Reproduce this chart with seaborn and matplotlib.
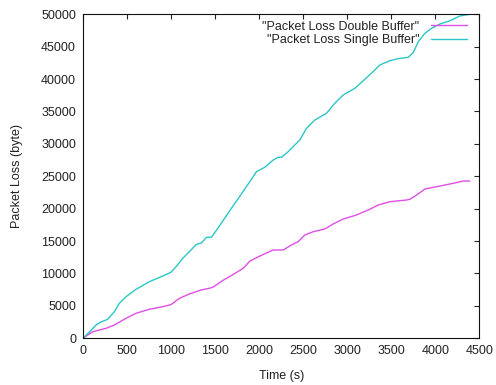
import matplotlib
matplotlib.use("Agg")
import matplotlib.pyplot as plt
import seaborn as sns
import pandas as pd

# Cumulative packet loss over time for the two buffering schemes
time_double = [0, 110, 262, 356, 489, 603, 754, 906, 1000, 1095, 1208, 1341, 1439,
               1477, 1591, 1705, 1818, 1894, 2008, 2159, 2273, 2368, 2443, 2519,
               2614, 2746, 2841, 2955, 3106, 3239, 3352, 3485, 3674, 3712, 3788,
               3883, 4053, 4205, 4318, 4394]
loss_double = [0, 1020, 1540, 2050, 3090, 3860, 4480, 4880, 5200, 6170, 6840, 7450,
               7740, 7900, 8950, 9840, 10790, 11900, 12700, 13630, 13630, 14400,
               14910, 15940, 16450, 16870, 17640, 18410, 19030, 19800, 20570,
               21080, 21340, 21450, 22110, 23040, 23500, 23920, 24270, 24270]

time_single = [0, 110, 148, 200, 281, 356, 413, 489, 603, 754, 906, 1000, 1057, 1133,
               1208, 1288, 1345, 1402, 1459, 1553, 1667, 1780, 1894, 1970, 2065,
               2159, 2216, 2254, 2330, 2405, 2462, 2538, 2633, 2765, 2860, 2955,
               3087, 3201, 3314, 3371, 3485, 3580, 3693, 3750, 3807, 3883, 3959,
               4053, 4167, 4280, 4394]
loss_single = [0, 1500, 2050, 2500, 2930, 4100, 5400, 6420, 7560, 8740, 9610, 10200,
               11050, 12350, 13370, 14500, 14700, 15590, 15600, 17400, 19700, 21900,
               24170, 25710, 26400, 27500, 27930, 27930, 28800, 29830, 30600, 32400,
               33690, 34720, 36270, 37550, 38580, 39970, 41400, 42180, 42840, 43150,
               43360, 44080, 45770, 47070, 47840, 48500, 49000, 49740, 50000]

series_names = ['"Packet Loss Double Buffer"', '"Packet Loss Single Buffer"']
series_colors = ["#e04ee6", "#2cc6c6"]

x_ticks = list(range(0, 4501, 500))
y_ticks = list(range(0, 50001, 5000))

df = pd.concat([
    pd.DataFrame({"Time": time_double, "Loss": loss_double, "Series": series_names[0]}),
    pd.DataFrame({"Time": time_single, "Loss": loss_single, "Series": series_names[1]}),
], ignore_index=True)

sns.set_theme(style="white")
plt.rcParams["font.family"] = ["Liberation Sans", "DejaVu Sans"]

fig = plt.figure(figsize=(4.96, 3.85), dpi=100)
ax = fig.add_axes([0.1673, 0.1213, 0.7990, 0.8416])

sns.lineplot(data=df, x="Time", y="Loss", hue="Series", hue_order=series_names,
             palette=dict(zip(series_names, series_colors)), linewidth=1.0,
             sort=False, estimator=None, ax=ax)

ax.set_xlim(0, 4500)
ax.set_ylim(0, 50000)
ax.set_xticks(x_ticks)
ax.set_yticks(y_ticks)
ax.tick_params(axis="both", which="major", direction="in", length=3.5, width=0.8,
               top=True, right=True, labelsize=9, colors="#222222", pad=5,
               labelcolor="#222222")
for sp in ax.spines.values():
    sp.set_visible(True)
    sp.set_color("#111111")
    sp.set_linewidth(0.8)

ax.set_xlabel("Time (s)", fontsize=9, color="#222222", labelpad=9)
ax.set_ylabel("Packet Loss (byte)", fontsize=9, color="#222222", labelpad=13)

leg = ax.legend(loc="upper right", frameon=False, markerfirst=False, fontsize=9,
                handlelength=2.9, handletextpad=0.9, labelspacing=0.15,
                borderaxespad=0.1, bbox_to_anchor=(0.985, 1.0))
# right-align the legend labels against their line samples
leg._legend_box._children[1]._children[0].align = "right"
for t in leg.get_texts():
    t.set_color("#222222")

fig.savefig("out.png", dpi=100)
